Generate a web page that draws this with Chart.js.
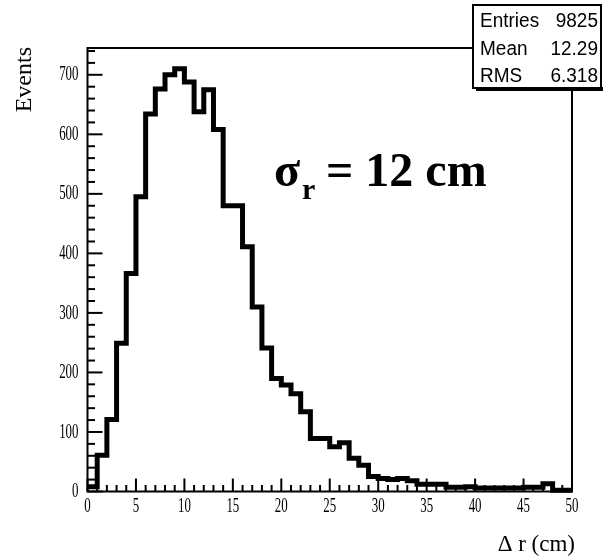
<!DOCTYPE html>
<html><head><meta charset="utf-8">
<script src="https://cdn.jsdelivr.net/npm/chart.js@4/dist/chart.umd.min.js"></script>
<style>html,body{margin:0;padding:0;background:#fff;} #wrap{width:603px;height:559px;position:relative;}</style>
</head><body><div id="wrap"><canvas id="c" width="603" height="559"></canvas></div>
<script>
// bin lower edges (cm), bin width 1
const binLow = [0,1,2,3,4,5,6,7,8,9,10,11,12,13,14,15,16,17,18,19,20,21,22,23,24,25,26,27,28,29,30,31,32,33,34,35,36,37,38,39,40,41,42,43,44,45,46,47,48,49];
const counts = [8,61,121,249,366,495,634,676,700,710,688,638,675,608,480,480,411,310,241,190,179,164,134,89,89,75,82,56,44,25,22,20,22,18,12,12,12,7,7,8,6,6,6,6,6,7,7,13,2,2];
const xTickValues = [0,5,10,15,20,25,30,35,40,45,50];
const xTickLabels = ['0','5','10','15','20','25','30','35','40','45','50'];
const yTickValues = [0,100,200,300,400,500,600,700];
const yTickLabels = ['0','100','200','300','400','500','600','700'];
const statsNames = ['Entries','Mean','RMS'];
const statsValues = ['9825','12.29','6.318'];
const xTitle = 'Δ r (cm)';
const yTitle = 'Events';
const annSymbol = 'σ', annSub = 'r', annText = ' = 12 cm';

const points = binLow.map((x,i)=>({x:x, y:counts[i]}));
points.push({x: binLow[binLow.length-1]+1, y: counts[counts.length-1]});

const rootStyle = {
  id:'rootStyle',
  afterDatasetsDraw(chart){
    const ctx = chart.ctx, xs = chart.scales.x, ys = chart.scales.y, a = chart.chartArea;
    ctx.save();
    ctx.strokeStyle = '#000'; ctx.fillStyle = '#000';
    ctx.lineWidth = 2;
    ctx.strokeRect(a.left, a.top, a.right - a.left, a.bottom - a.top);
    // y ticks (inside)
    for (let v = 0; v <= ys.max; v += 20) {
      const py = ys.getPixelForValue(v);
      const len = (v % 100 === 0) ? 15 : 7.5;
      ctx.beginPath(); ctx.moveTo(a.left, py); ctx.lineTo(a.left + len, py); ctx.stroke();
    }
    // x ticks (inside)
    for (let v = 0; v <= 50; v += 1) {
      const px = xs.getPixelForValue(v);
      const len = (v % 5 === 0) ? 13 : 6.5;
      ctx.beginPath(); ctx.moveTo(px, a.bottom); ctx.lineTo(px, a.bottom - len); ctx.stroke();
    }
    // tick labels (condensed serif)
    ctx.font = '21.5px "Liberation Serif"';
    ctx.textBaseline = 'middle';
    yTickValues.forEach((v,i)=>{
      const py = ys.getPixelForValue(v);
      ctx.save(); ctx.translate(a.left - 9, py); ctx.scale(0.6, 1);
      ctx.textAlign = 'right'; ctx.fillText(yTickLabels[i], 0, 0); ctx.restore();
    });
    xTickValues.forEach((v,i)=>{
      const px = xs.getPixelForValue(v);
      ctx.save(); ctx.translate(px, a.bottom + 15); ctx.scale(0.6, 1);
      ctx.textAlign = 'center'; ctx.fillText(xTickLabels[i], 0, 0); ctx.restore();
    });
    // axis titles
    ctx.font = '23px "Liberation Serif"';
    ctx.textAlign = 'right'; ctx.textBaseline = 'alphabetic';
    ctx.fillText(xTitle, a.right + 3, 551);
    ctx.save(); ctx.translate(31, 47); ctx.rotate(-Math.PI/2);
    ctx.textAlign = 'right'; ctx.font = '24px "Liberation Serif"';
    ctx.fillText(yTitle, 0, 0); ctx.restore();
    // annotation
    ctx.textAlign = 'left';
    ctx.font = 'bold 48px "Liberation Serif"';
    ctx.fillText(annSymbol, 274, 186);
    ctx.font = 'bold 30px "Liberation Serif"';
    ctx.fillText(annSub, 302, 199);
    ctx.font = 'bold 48px "Liberation Serif"';
    ctx.fillText(annText, 314, 186);
    // stats box
    ctx.fillStyle = '#fff';
    ctx.fillRect(473, 5, 128, 83);
    ctx.fillStyle = '#000';
    ctx.fillRect(476, 87, 127, 4);
    ctx.lineWidth = 2;
    ctx.strokeRect(473, 5, 128, 83);
    ctx.font = '20px "Liberation Sans"';
    ctx.textBaseline = 'middle';
    const rowY = [21, 49, 76];
    statsNames.forEach((n,i)=>{
      ctx.save(); ctx.translate(480, rowY[i]); ctx.scale(0.95, 1.05);
      ctx.textAlign = 'left'; ctx.fillText(n, 0, 0); ctx.restore();
      ctx.save(); ctx.translate(598, rowY[i]); ctx.scale(0.95, 1.05);
      ctx.textAlign = 'right'; ctx.fillText(statsValues[i], 0, 0); ctx.restore();
    });
    ctx.restore();
  }
};

new Chart(document.getElementById('c'), {
  type: 'line',
  data: { datasets: [{
    data: points, stepped: true, borderColor: '#000', borderWidth: 5,
    pointRadius: 0, fill: false, borderJoinStyle: 'miter', borderCapStyle: 'butt', clip: false
  }]},
  options: {
    responsive: false, animation: false, devicePixelRatio: 1,
    layout: { padding: { left: 87.5, right: 31, top: 48, bottom: 67.5 } },
    plugins: { legend: { display: false }, tooltip: { enabled: false } },
    scales: {
      x: { type: 'linear', min: 0, max: 50, display: false },
      y: { type: 'linear', min: 0, max: 745, display: false }
    }
  },
  plugins: [rootStyle]
});
</script></body></html>
